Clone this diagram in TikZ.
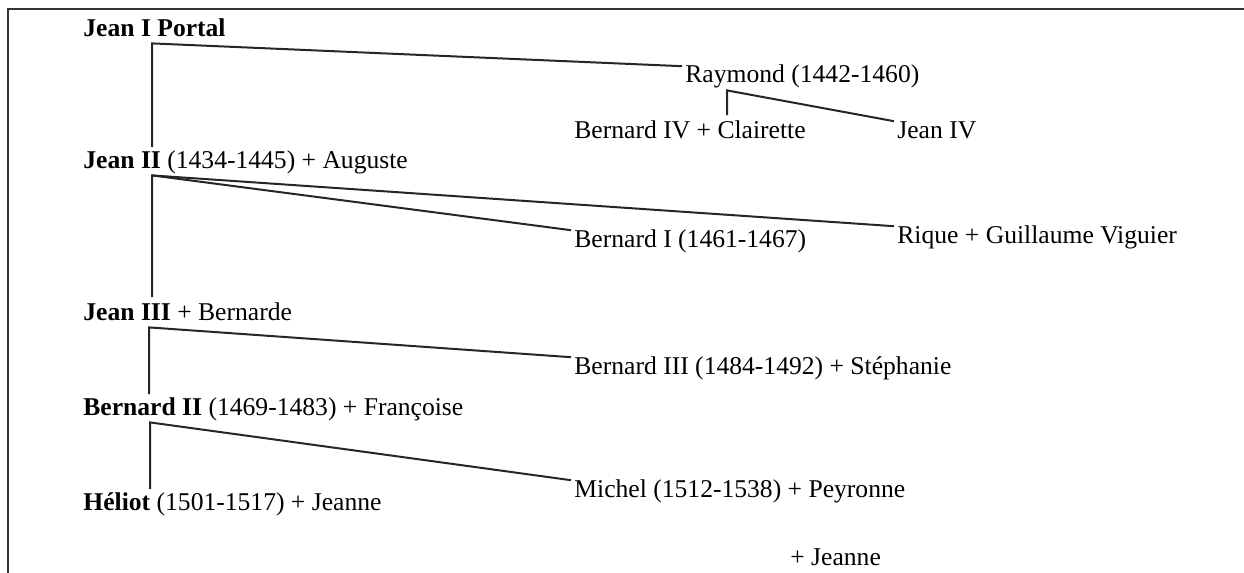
\documentclass[tikz,border=0pt]{standalone}
\usepackage{fontspec}
\setmainfont{Liberation Serif}

\tikzset{
  person/.style={anchor=base west, inner xsep=1.5pt, inner ysep=0pt,
    text height=8.2pt, text depth=3.5pt, font=\fontsize{12.8}{15}\selectfont},
  link/.style={line width=1pt, draw=black!85, line join=miter},
  frameline/.style={line width=0.6pt, draw=black!80}
}

\begin{document}
\begin{tikzpicture}[x=0.5pt, y=-0.5pt]
    % --- 定义坐标和参数 ---
    \def\colA{80}    % 左列 (主干)
    \def\colB{571}   % 中列
    \def\colC{894}   % 右列
    \useasboundingbox (0,0) rectangle (1244,573);

    % --- 外框 (只有上边和左边) ---
    \draw[frameline] (8,573) -- (8,9) -- (1244,9);

    % --- 主干人物 ---
    \node[person] (jean1)  at (\colA, 36)  {\textbf{Jean I Portal}};
    \node[person] (jean2)  at (\colA, 168) {\textbf{Jean II} (1434-1445) + Auguste};
    \node[person] (jean3)  at (\colA, 320) {\textbf{Jean III} + Bernarde};
    \node[person] (bern2)  at (\colA, 415) {\textbf{Bernard II} (1469-1483) + Françoise};
    \node[person] (heliot) at (\colA, 510) {\textbf{Héliot} (1501-1517) + Jeanne};

    % --- 旁支人物 ---
    \node[person] (raymond) at (682, 83)    {Raymond (1442-1460)};
    \node[person] (bern4)   at (\colB, 138) {Bernard IV + Clairette};
    \node[person] (jean4)   at (\colC, 138) {Jean IV};
    \node[person] (bern1)   at (\colB, 247) {Bernard I (1461-1467)};
    \node[person] (rique)   at (\colC, 243) {Rique + Guillaume Viguier};
    \node[person] (bern3)   at (\colB, 374) {Bernard III (1484-1492) + Stéphanie};
    \node[person] (michel)  at (\colB, 497) {Michel (1512-1538) + Peyronne};
    \node[person] (jeanne)  at (787, 565)   {+ Jeanne};

    % --- 分支点 (父辈名字下方) ---
    \path (jean1.south west)   ++(72,0) coordinate (j1);
    \path (raymond.south west) ++(45,0) coordinate (r1);
    \path (jean2.south west)   ++(72,0) coordinate (j2);
    \path (jean3.south west)   ++(69,0) coordinate (j3);
    \path (bern2.south west)   ++(70,0) coordinate (b2);

    % --- 连线 ---
    % Jean I -> Jean II, Raymond
    \draw[link] ([yshift=2pt]jean2.north -| j1) -- (j1) -- (raymond.north west);
    % Raymond -> Bernard IV, Jean IV
    \draw[link] ([yshift=3pt]bern4.north -| r1) -- (r1) -- (jean4.north west);
    % Jean II -> Jean III, Bernard I, Rique
    \draw[link] ([yshift=3pt]jean3.north -| j2) -- (j2) -- (bern1.north west);
    \draw[link] (j2) -- (rique.north west);
    % Jean III -> Bernard II, Bernard III
    \draw[link] ([yshift=2pt]bern2.north -| j3) -- (j3) -- (bern3.north west);
    % Bernard II -> Héliot, Michel
    \draw[link] ([yshift=2pt]heliot.north -| b2) -- (b2) -- (michel.north west);

\end{tikzpicture}
\end{document}
